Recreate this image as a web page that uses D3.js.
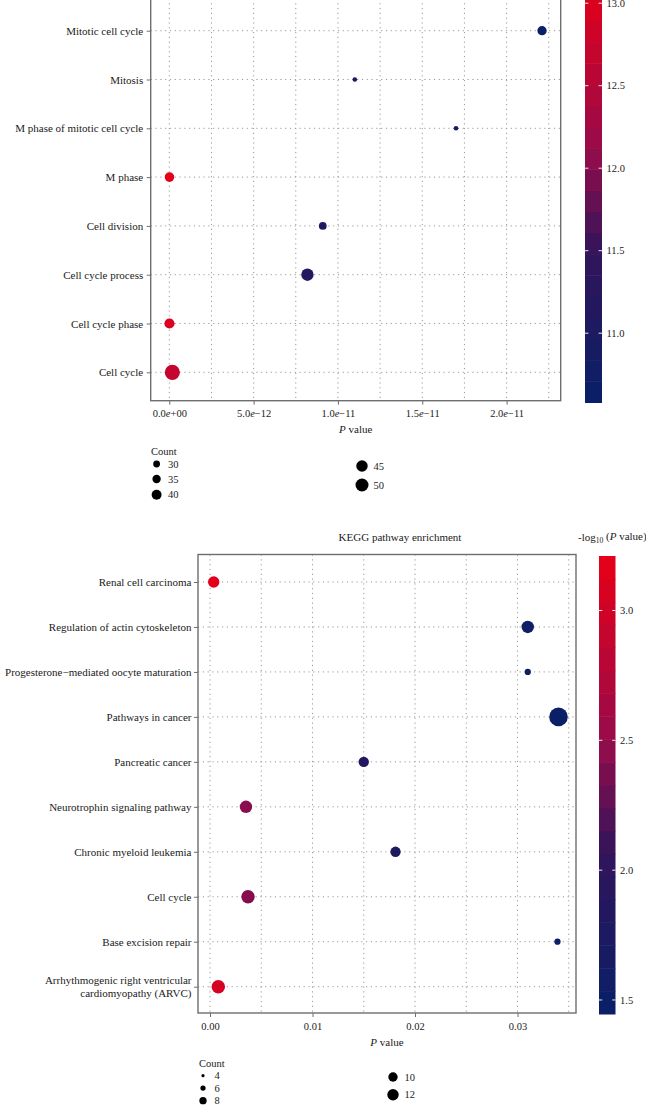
<!DOCTYPE html>
<html>
<head>
<meta charset="utf-8">
<script src="https://cdn.jsdelivr.net/npm/d3@7"></script>
<style>
  html, body { margin: 0; padding: 0; background: #ffffff; }
  svg { display: block; }
  text { font-family: "Liberation Serif", "DejaVu Serif", serif; fill: #1a1a1a; }
</style>
</head>
<body>
<svg id="chart" width="646" height="1106"></svg>
<script>
// ---------------- DATA ----------------
// GO panel (listed bottom -> top)
const goTerms = ["Cell cycle", "Cell cycle phase", "Cell cycle process", "Cell division",
                 "M phase", "M phase of mitotic cell cycle", "Mitosis", "Mitotic cell cycle"];
const goPValue = [1.8e-13, 1e-14, 8.19e-12, 9.1e-12, 1e-14, 1.70e-11, 1.10e-11, 2.21e-11];
const goNegLogP = [12.75, 13.05, 11.09, 11.04, 13.15, 10.77, 10.96, 10.58];
const goCount = [57, 41, 48, 33, 39, 23, 23, 38];
const goXTicks = [0, 5e-12, 1e-11, 1.5e-11, 2e-11];
const goXTickLabels = [["0.0", "+00"], ["5.0", "\u221212"], ["1.0", "\u221211"], ["1.5", "\u221211"], ["2.0", "\u221211"]];
const goColorTicks = [11.0, 11.5, 12.0, 12.5, 13.0];
const goLegendCol1 = [30, 35, 40];
const goLegendCol2 = [45, 50];

// KEGG panel (listed top -> bottom)
const keggTerms = ["Renal cell carcinoma", "Regulation of actin cytoskeleton",
  "Progesterone\u2212mediated oocyte maturation", "Pathways in cancer", "Pancreatic cancer",
  "Neurotrophin signaling pathway", "Chronic myeloid leukemia", "Cell cycle",
  "Base excision repair", "Arrhythmogenic right ventricular cardiomyopathy (ARVC)"];
const keggPValue = [0.00036, 0.0310, 0.0310, 0.0340, 0.0150, 0.00351, 0.0181, 0.00371, 0.0339, 0.00081];
const keggNegLogP = [3.21, 1.51, 1.51, 1.446, 1.82, 2.45, 1.74, 2.43, 1.47, 3.09];
const keggCount = [12, 13, 7, 19, 11, 13, 11, 14, 7, 14];
const keggXTicks = [0, 0.01, 0.02, 0.03];
const keggXTickLabels = ["0.00", "0.01", "0.02", "0.03"];
const keggColorTicks = [1.5, 2.0, 2.5, 3.0];
const keggLegendCol1 = [4, 6, 8];
const keggLegendCol2 = [10, 12];

// colour ramp (low -> high), stops as fractions of the colour range
const rampStops = [0, 0.35, 0.6, 1];
const rampColors = ["#0b1f66", "#33145a", "#960c4b", "#e2001a"];

// ---------------- DRAW ----------------
const svg = d3.select("#chart");
svg.append("rect").attr("width", 646).attr("height", 1106).attr("fill", "#ffffff");

const GRID = "#9a9a9a", FRAME = "#6e6e6e";

function panel(cfg) {
  const g = svg.append("g");
  const x = d3.scaleLinear().domain(cfg.xRef).range(cfg.xRefPx);
  const y = d3.scalePoint().domain(cfg.terms).range(cfg.yRange);
  const cExt = d3.extent(cfg.negLogP);
  const color = d3.scaleLinear()
    .domain(rampStops.map(s => cExt[0] + s * (cExt[1] - cExt[0])))
    .range(rampColors).interpolate(d3.interpolateRgb);
  const r = d3.scaleLinear().domain(cfg.rDomain).range(cfg.rRange);

  // grid: vertical dotted lines at major and minor positions
  const step = cfg.gridStep;
  const nGrid = Math.floor((x.invert(cfg.frame.x1) - 0) / step + 1e-9);
  const gx = d3.range(0, nGrid + 1).map(i => i * step);
  g.append("g").selectAll("line").data(gx).join("line")
    .attr("x1", d => x(d)).attr("x2", d => x(d))
    .attr("y1", cfg.frame.y0).attr("y2", cfg.frame.y1)
    .attr("stroke", GRID).attr("stroke-width", 1).attr("stroke-dasharray", "1.2,3.6");
  g.append("g").selectAll("line").data(cfg.terms).join("line")
    .attr("x1", cfg.frame.x0).attr("x2", cfg.frame.x1)
    .attr("y1", d => y(d)).attr("y2", d => y(d))
    .attr("stroke", GRID).attr("stroke-width", 1).attr("stroke-dasharray", "1.2,3.6");

  // points
  const idx = d3.range(cfg.terms.length);
  g.append("g").selectAll("circle").data(idx).join("circle")
    .attr("cx", i => x(cfg.pValue[i]))
    .attr("cy", i => y(cfg.terms[i]))
    .attr("r", i => r(cfg.count[i]))
    .attr("fill", i => color(cfg.negLogP[i]));

  // frame
  g.append("rect")
    .attr("x", cfg.frame.x0).attr("y", cfg.frame.y0)
    .attr("width", cfg.frame.x1 - cfg.frame.x0).attr("height", cfg.frame.y1 - cfg.frame.y0)
    .attr("fill", "none").attr("stroke", FRAME).attr("stroke-width", 1.4);

  // x axis
  const xa = g.append("g").attr("transform", `translate(0,${cfg.frame.y1})`)
    .call(d3.axisBottom(x).tickValues(cfg.xTicks).tickSize(4).tickPadding(cfg.xPad).tickFormat((d, i) => i));
  xa.select(".domain").remove();
  xa.selectAll(".tick line").attr("stroke", FRAME);
  xa.selectAll(".tick text").attr("font-size", 10.5).attr("fill", "#1a1a1a")
    .each(function(d, i) {
      const t = d3.select(this); t.text(null);
      const lab = cfg.xTickLabels[i];
      if (Array.isArray(lab)) {
        t.append("tspan").text(lab[0]);
        t.append("tspan").attr("font-style", "italic").text("e");
        t.append("tspan").text(lab[1]);
      } else t.text(lab);
    });
  // x title
  const xt = g.append("text").attr("x", (cfg.frame.x0 + cfg.frame.x1) / 2).attr("y", cfg.xTitleY)
    .attr("text-anchor", "middle").attr("font-size", 11);
  xt.append("tspan").attr("font-style", "italic").text("P");
  xt.append("tspan").text(" value");

  // y axis
  const ya = g.append("g").attr("transform", `translate(${cfg.frame.x0},0)`)
    .call(d3.axisLeft(y).tickSize(4).tickPadding(cfg.yPad));
  ya.select(".domain").remove();
  ya.selectAll(".tick line").attr("stroke", FRAME);
  ya.selectAll(".tick text").attr("font-size", 11).attr("fill", "#1a1a1a")
    .each(function(d) {
      const m = d.match(/^(Arrhythmogenic right ventricular) (cardiomyopathy \(ARVC\))$/);
      if (m) {
        const t = d3.select(this); const xx = t.attr("x");
        t.text(null).attr("dy", null);
        t.append("tspan").attr("x", xx).attr("dy", "-0.27em").text(m[1]);
        t.append("tspan").attr("x", xx).attr("dy", "1.14em").text(m[2]);
      }
    });

  // colour bar
  const cb = cfg.cbar;
  const cbScale = d3.scaleLinear().domain(cExt).range([cb.y1, cb.y0]);
  const nbin = 20;
  const binH = (cb.y1 - cb.y0) / nbin;
  const bins = d3.range(nbin);
  g.append("g").selectAll("rect").data(bins).join("rect")
    .attr("x", cb.x0).attr("width", cb.x1 - cb.x0)
    .attr("y", i => cb.y1 - (i + 1) * binH).attr("height", binH + 0.5)
    .attr("fill", i => color(cExt[0] + (cExt[1] - cExt[0]) * i / (nbin - 1)));
  const tw = (cb.x1 - cb.x0) / 5;
  const ct = g.append("g").selectAll("g").data(cfg.colorTicks).join("g");
  ct.append("line").attr("x1", cb.x0).attr("x2", cb.x0 + tw)
    .attr("y1", d => cbScale(d)).attr("y2", d => cbScale(d)).attr("stroke", "#e8e8ee").attr("stroke-width", 1);
  ct.append("line").attr("x1", cb.x1 - tw).attr("x2", cb.x1)
    .attr("y1", d => cbScale(d)).attr("y2", d => cbScale(d)).attr("stroke", "#e8e8ee").attr("stroke-width", 1);
  ct.append("text").attr("x", cb.x1 + 4.5).attr("y", d => cbScale(d)).attr("dy", "0.34em")
    .attr("font-size", 10.5).text(d => d3.format(".1f")(d));

  // size legend
  const L = cfg.legend;
  g.append("text").attr("x", L.titleX).attr("y", L.titleY).attr("font-size", 10.5).text("Count");
  [[L.col1, L.col1X, L.col1Y], [L.col2, L.col2X, L.col2Y]].forEach(([vals, cx, ys]) => {
    const lg = g.append("g").selectAll("g").data(vals).join("g");
    lg.append("circle").attr("cx", cx).attr("cy", (d, i) => ys[i]).attr("r", d => r(d)).attr("fill", "#000");
    lg.append("text").attr("x", cx + 11.5).attr("y", (d, i) => ys[i]).attr("dy", "0.34em")
      .attr("font-size", 10.5).text(d => d);
  });
  return { x, y };
}

// GO panel
panel({
  terms: goTerms, pValue: goPValue, negLogP: goNegLogP, count: goCount,
  xRef: [0, 2e-11], xRefPx: [169.3, 506.6],
  yRange: [372.3, 30.7],
  frame: { x0: 150.7, x1: 560.7, y0: -40, y1: 400.7 },
  gridStep: 2.5e-12,
  xTicks: goXTicks, xTickLabels: goXTickLabels, xPad: 4.5, xTitleY: 433,
  yPad: 3.5,
  rDomain: [30, 50], rRange: [3.4, 6.5],
  cbar: { x0: 585, x1: 602, y1: 402.5, y0: 402.5 - (d3.max(goNegLogP) - d3.min(goNegLogP)) * 165 },
  colorTicks: goColorTicks,
  legend: { titleX: 151, titleY: 454.5,
            col1: goLegendCol1, col1X: 156.6, col1Y: [464, 479, 494.7],
            col2: goLegendCol2, col2X: 362, col2Y: [466, 485] }
});

// KEGG panel
panel({
  terms: keggTerms, pValue: keggPValue, negLogP: keggNegLogP, count: keggCount,
  xRef: [0, 0.03], xRefPx: [210, 517.5],
  yRange: [582, 986.7],
  frame: { x0: 198, x1: 576, y0: 554.5, y1: 1013 },
  gridStep: 0.005,
  xTicks: keggXTicks, xTickLabels: keggXTickLabels, xPad: 6, xTitleY: 1046,
  yPad: 2.5,
  rDomain: [4, 12], rRange: [1.6, 5.7],
  cbar: { x0: 599, x1: 615.5, y0: 556, y1: 1014 },
  colorTicks: keggColorTicks,
  legend: { titleX: 199, titleY: 1066.5,
            col1: keggLegendCol1, col1X: 203, col1Y: [1075.7, 1088, 1100.7],
            col2: keggLegendCol2, col2X: 393, col2Y: [1077, 1094.7] }
});

// titles
svg.append("text").attr("x", 400).attr("y", 540.5).attr("text-anchor", "middle")
  .attr("font-size", 11).text("KEGG pathway enrichment");
const ct = svg.append("text").attr("x", 578).attr("y", 540.5).attr("font-size", 11);
ct.append("tspan").text("-log");
ct.append("tspan").attr("font-size", 7.5).attr("dy", "0.3em").text("10");
ct.append("tspan").attr("dy", "-0.25em").text(" (");
ct.append("tspan").attr("font-style", "italic").text("P");
ct.append("tspan").text(" value)");
</script>
</body>
</html>
